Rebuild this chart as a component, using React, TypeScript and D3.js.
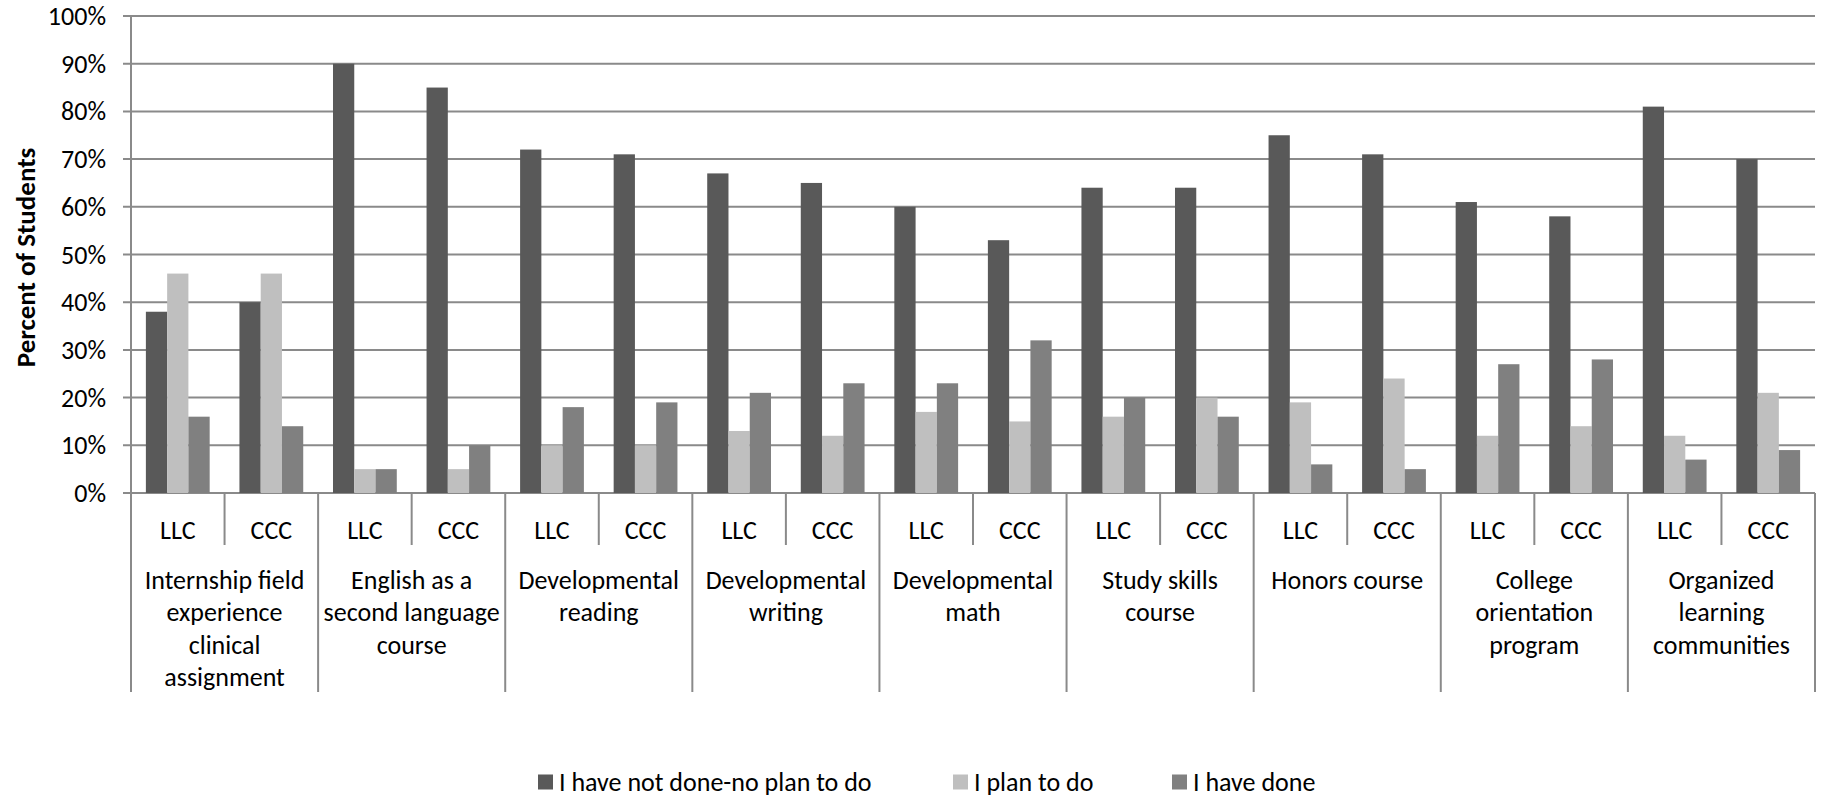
import React from "react";
import * as d3 from "d3";

const categories: string[][] = [
  ["Internship field", "experience", "clinical", "assignment"],
  ["English as a", "second language", "course"],
  ["Developmental", "reading"],
  ["Developmental", "writing"],
  ["Developmental", "math"],
  ["Study skills", "course"],
  ["Honors course"],
  ["College", "orientation", "program"],
  ["Organized", "learning", "communities"],
];
const groups = ["LLC", "CCC"];
const seriesNames = ["I have not done-no plan to do", "I plan to do", "I have done"];
const seriesColors = ["#595959", "#bfbfbf", "#808080"];
// order: cat1 LLC, cat1 CCC, cat2 LLC, ...
const notDone = [38, 40, 90, 85, 72, 71, 67, 65, 60, 53, 64, 64, 75, 71, 61, 58, 81, 70];
const planToDo = [46, 46, 5, 5, 10, 10, 13, 12, 17, 15, 16, 20, 19, 24, 12, 14, 12, 21];
const haveDone = [16, 14, 5, 10, 18, 19, 21, 23, 23, 32, 20, 16, 6, 5, 27, 28, 7, 9];
const yTicks = [0, 10, 20, 30, 40, 50, 60, 70, 80, 90, 100];

const W = 1830;
const H = 797;
const L = 131;
const R = 1815;
const T = 16;
const B = 493;
const FONT = "Carlito, Calibri, Lato, sans-serif";
const GRID = "#8a8a8a";
const FS = 26;

export default function App() {
  const seriesValues = [notDone, planToDo, haveDone];
  const subKeys = categories.flatMap((_, ci) => groups.map((g) => `${ci}-${g}`));
  const xCat = d3.scaleBand<number>().domain(d3.range(categories.length)).range([L, R]);
  const xSub = d3.scaleBand<string>().domain(subKeys).range([L, R]);
  const xSer = d3
    .scaleBand<number>()
    .domain(d3.range(seriesNames.length))
    .range([0, xSub.bandwidth()])
    .paddingInner(0)
    .paddingOuter(0.7);
  const y = d3.scaleLinear().domain([0, 100]).range([B, T]);

  const lineH = 32.3;

  const legendX = [538, 953, 1172];

  return (
    <svg
      width={W}
      height={H}
      style={{ position: "absolute", left: 0, top: 0, background: "#fff" }}
      fontFamily={FONT}
    >
      {/* gridlines + y ticks */}
      {yTicks.map((t) => (
        <g key={t}>
          <line x1={L - 8} x2={R} y1={y(t)} y2={y(t)} stroke={GRID} strokeWidth={2} />
          <text
            x={106}
            y={y(t)}
            textAnchor="end"
            dominantBaseline="central"
            fontSize={FS}
            fill="#000"
          >
            {t}%
          </text>
        </g>
      ))}
      {/* y axis */}
      <line x1={L} x2={L} y1={T} y2={692} stroke={GRID} strokeWidth={2} />
      <text
        transform={`translate(25,${(T + B) / 2 + 3}) rotate(-90)`}
        textAnchor="middle"
        dominantBaseline="central"
        fontSize={27}
        fontWeight="bold"
        fill="#000"
      >
        Percent of Students
      </text>

      {/* bars */}
      {seriesValues.map((vals, si) =>
        vals.map((v, i) => (
          <rect
            key={`${si}-${i}`}
            x={(xSub(subKeys[i]) as number) + (xSer(si) as number)}
            y={y(v)}
            width={xSer.bandwidth()}
            height={B - y(v)}
            fill={seriesColors[si]}
          />
        ))
      )}

      {/* sub separators */}
      {subKeys.map((k, i) =>
        i % 2 === 1 ? (
          <line
            key={k}
            x1={xSub(k) as number}
            x2={xSub(k) as number}
            y1={B}
            y2={545}
            stroke={GRID}
            strokeWidth={2}
          />
        ) : null
      )}
      {/* group separators */}
      {d3.range(categories.length + 1).map((i) => {
        const x = i < categories.length ? (xCat(i) as number) : R;
        return <line key={i} x1={x} x2={x} y1={B} y2={692} stroke={GRID} strokeWidth={2} />;
      })}

      {/* sub labels */}
      {subKeys.map((k, i) => (
        <text
          key={k}
          x={(xSub(k) as number) + xSub.bandwidth() / 2}
          y={530}
          textAnchor="middle"
          dominantBaseline="central"
          fontSize={FS}
          fill="#000"
        >
          {groups[i % 2]}
        </text>
      ))}
      {/* category labels */}
      {categories.map((lines, ci) => (
        <text
          key={ci}
          x={(xCat(ci) as number) + xCat.bandwidth() / 2}
          y={580}
          textAnchor="middle"
          fontSize={FS}
          fill="#000"
        >
          {lines.map((ln, li) => (
            <tspan
              key={li}
              x={(xCat(ci) as number) + xCat.bandwidth() / 2}
              y={580 + li * lineH}
              dominantBaseline="central"
            >
              {ln}
            </tspan>
          ))}
        </text>
      ))}

      {/* legend */}
      {seriesNames.map((n, si) => (
        <g key={n} transform={`translate(${legendX[si]},782)`}>
          <rect x={0} y={-7.5} width={15} height={15} fill={seriesColors[si]} />
          <text x={21} y={0} dominantBaseline="central" fontSize={FS} fill="#000">
            {n}
          </text>
        </g>
      ))}
    </svg>
  );
}
